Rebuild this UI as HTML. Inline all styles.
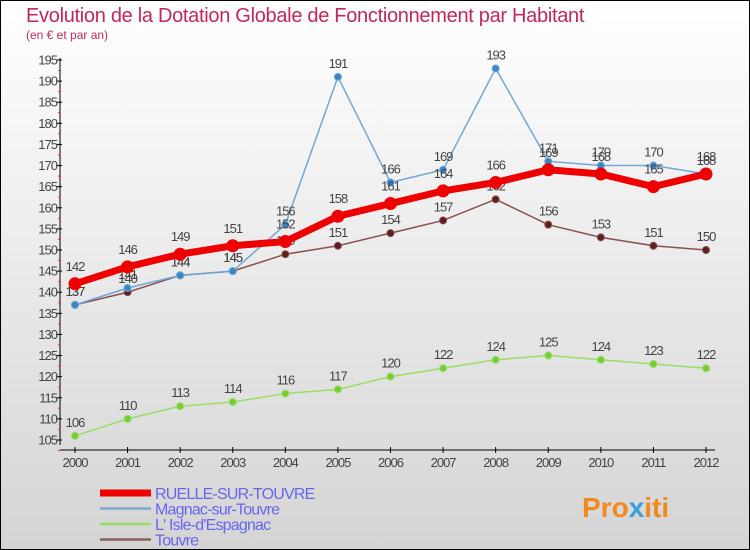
<!DOCTYPE html>
<html><head><meta charset="utf-8"><style>
body{margin:0;width:750px;height:550px;overflow:hidden;font-family:"Liberation Sans",sans-serif}
svg{display:block}
</style></head><body>
<svg width="750" height="550">
<defs><linearGradient id="bg" x1="0" y1="0" x2="0" y2="1"><stop offset="0" stop-color="#ffffff"/><stop offset="1" stop-color="#d4d4d4"/></linearGradient></defs>
<rect x="0.5" y="0.5" width="749" height="549" fill="url(#bg)" stroke="#000"/>
<text x="26" y="22" font-size="20" fill="#c0285a" letter-spacing="-0.3">Evolution de la Dotation Globale de Fonctionnement par Habitant</text>
<text x="26" y="39" font-size="12" fill="#c0285a">(en € et par an)</text>
<g id="axes"></g><g id="series"></g><g id="legend"></g>
<text x="582" y="517" font-size="28" font-weight="bold" fill="#f08a1e">Pro<tspan fill="#3aa0d8">x</tspan>iti</text>
</svg>
<script>
const years=[2000,2001,2002,2003,2004,2005,2006,2007,2008,2009,2010,2011,2012];
const ruelle=[142,146,149,151,152,158,161,164,166,169,168,165,168];
const magnac=[137,141,144,145,156,191,166,169,193,171,170,170,168];
const isle=[106,110,113,114,116,117,120,122,124,125,124,123,122];
const touvre=[137,140,144,145,149,151,154,157,162,156,153,151,150];
const yTicks=[105,110,115,120,125,130,135,140,145,150,155,160,165,170,175,180,185,190,195];
const NS="http://www.w3.org/2000/svg";
const X=i=>75+i*(706-75)/12;
const Y=v=>440-(v-105)*(380/90);
function mk(t,a,p){const e=document.createElementNS(NS,t);for(const k in a)e.setAttribute(k,a[k]);p.appendChild(e);return e;}
const ax=document.getElementById('axes');
let l=mk('line',{x1:60,y1:58,x2:60,y2:445,stroke:'#000'},ax);


l=mk('line',{x1:60,y1:450,x2:715,y2:450,stroke:'#000'},ax);


yTicks.forEach(v=>{const y=Y(v);mk('line',{x1:56,y1:y,x2:62,y2:y,stroke:'#000'},ax);
mk('line',{x1:58,y1:y+10.5,x2:61,y2:y+10.5,stroke:'#e33'},ax);
const t=mk('text',{x:57,y:y+4.5,'font-size':13,fill:'#444','text-anchor':'end','letter-spacing':'-1'},ax);t.textContent=v;

});
years.forEach((yr,i)=>{mk('line',{x1:X(i),y1:447,x2:X(i),y2:453,stroke:'#000'},ax);
const t=mk('text',{x:X(i),y:467,'font-size':13,fill:'#444','text-anchor':'middle','letter-spacing':'-1'},ax);t.textContent=yr;

});
const sg=document.getElementById('series');
function series(d,name,color,w,r,fill,lblOff){
const g=mk('g',{},sg);


mk('polyline',{points:d.map((v,i)=>X(i)+','+Y(v)).join(' '),fill:'none',stroke:color,'stroke-width':w},g);
d.forEach((v,i)=>{const c=mk('circle',{cx:X(i),cy:Y(v),r:r,fill:fill,stroke:color,'stroke-width':1},g);


const t=mk('text',{x:X(i),y:Y(v)-lblOff,'font-size':13,fill:'#444','text-anchor':'middle','letter-spacing':'-1'},g);t.textContent=v;});}
series(isle,'isle-d-espagnac','#99dd66',1.5,3.5,'#77cc33',9);
series(touvre,'touvre','#8b4f4f',1.5,3.5,'#5a1f1f',9);
series(magnac,'magnac-sur-touvre','#6fa8d6',1.5,3.5,'#3a85c6',9);
series(ruelle,'ruelle-sur-touvre','#ee0000',7,6,'#ee0000',13);
const lg=document.getElementById('legend');
[['RUELLE-SUR-TOUVRE','#ee0000',7],['Magnac-sur-Touvre','#7aaad0',2.5],["L' Isle-d'Espagnac",'#99dd66',2.5],['Touvre','#8b5f5f',2.5]].forEach((e,i)=>{
const y=493+i*15.5;
const g=mk('g',{},lg);


mk('line',{x1:100,y1:y,x2:151,y2:y,stroke:e[1],'stroke-width':e[2]},g);
const t=mk('text',{x:155,y:y+6,'font-size':16,fill:'#6666ee','letter-spacing':'-0.8'},g);t.textContent=e[0];});
</script>
</body></html>
